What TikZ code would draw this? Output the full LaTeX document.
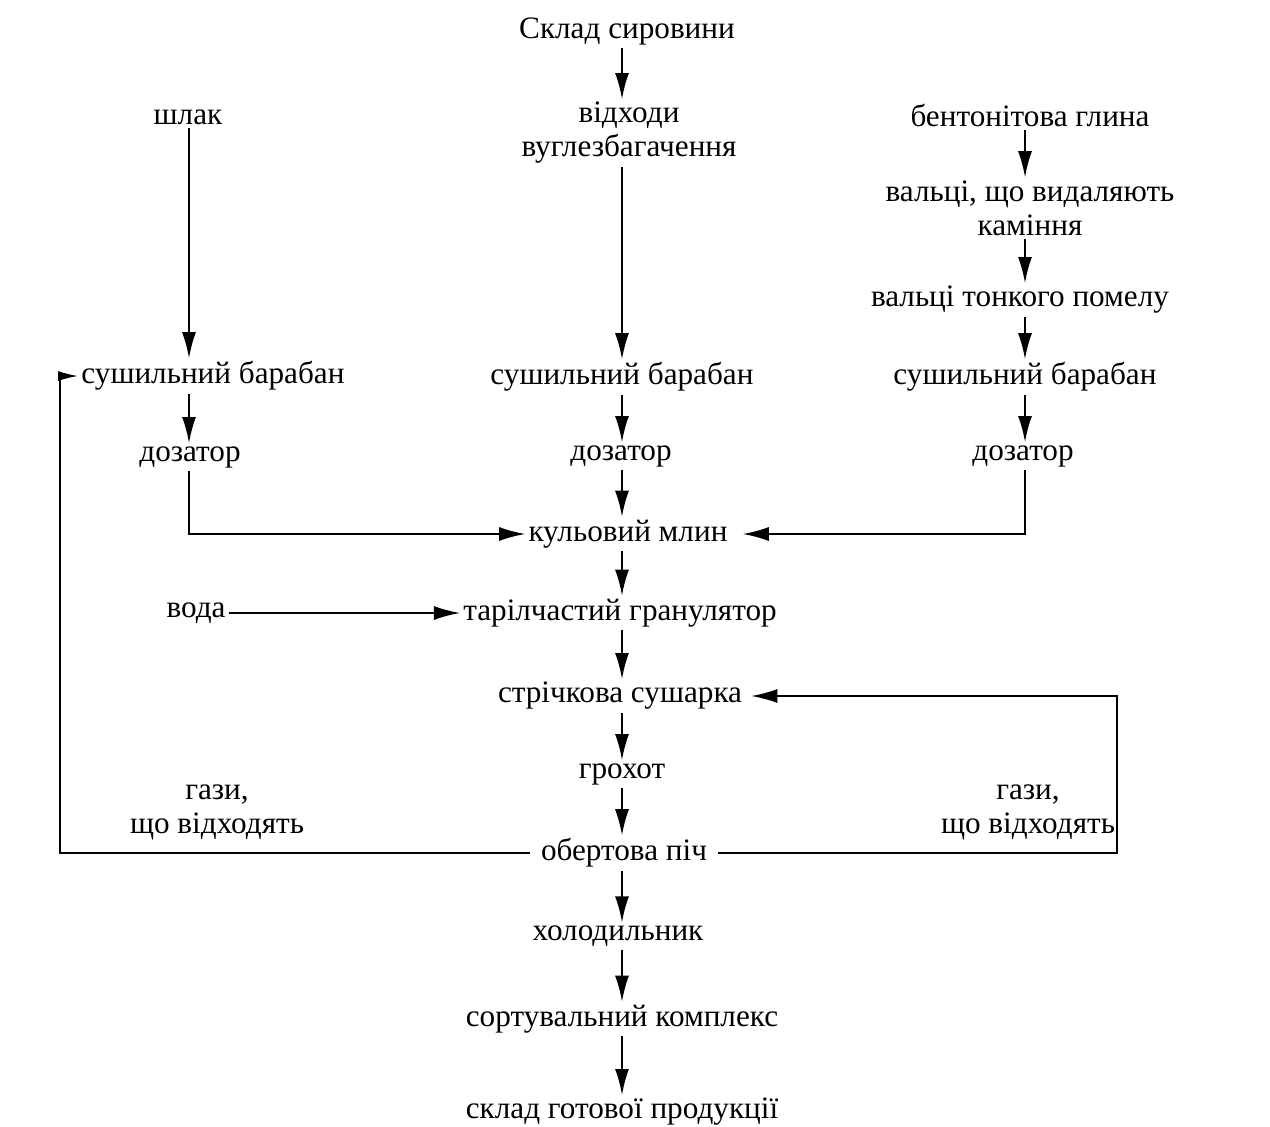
\documentclass[tikz,border=0pt]{standalone}
\usepackage{fontspec}
\setmainfont{Liberation Serif}
\usetikzlibrary{arrows.meta}

\begin{document}
\begin{tikzpicture}[x=0.5pt, y=-0.5pt, >={Latex[length=13pt, width=7pt]}, line width=0.9pt,
  every node/.style={font=\fontsize{15.6}{17}\selectfont, inner sep=1.2pt, align=center}]
  % Canvas
  \useasboundingbox (0,0) rectangle (1270,1126);

  % Axes of the three columns
  \coordinate (axisL) at (189,0);
  \coordinate (axisM) at (622,0);
  \coordinate (axisR) at (1025,0);

  % Left column
  \node (shlak) at (188,117) {шлак};
  \node (sushL) at (213,376) {сушильний барабан};
  \node (dozL) at (190,457) {дозатор};
  \node (voda) at (196,613) {вода};

  % Middle column
  \node (sklad) at (627,31) {Склад сировини};
  \node (vidkhody) at (629,133) {відходи\\вуглезбагачення};
  \node (sushM) at (622,377) {сушильний барабан};
  \node (dozM) at (621,456) {дозатор};
  \node (mlyn) at (628,534) {кульовий млин};
  \node (granul) at (620,613) {тарілчастий гранулятор};
  \node (sushka) at (620,696) {стрічкова сушарка};
  \node (grokhot) at (622,774) {грохот};
  \node[inner xsep=5pt] (pich) at (624,853) {обертова піч};
  \node (kholod) at (618,936) {холодильник};
  \node (sort) at (622,1019) {сортувальний комплекс};
  \node (gotova) at (622,1112) {склад готової продукції};

  % Right column
  \node (glyna) at (1030,115) {бентонітова глина};
  \node (valtsi) at (1030,208) {вальці, що видаляють\\каміння};
  \node (pomel) at (1020,300) {вальці тонкого помелу};
  \node (sushR) at (1025,377) {сушильний барабан};
  \node (dozR) at (1023,456) {дозатор};

  % Off-gas labels
  \node (gazyL) at (217,812) {гази,\\що відходять};
  \node (gazyR) at (1028,812) {гази,\\що відходять};

  % Left column arrows
  \draw[->] (shlak.south -| axisL) -- (sushL.north -| axisL);
  \draw[->] (sushL.south -| axisL) -- (dozL.north -| axisL);
  \draw[->] (dozL.south -| axisL) |- (mlyn.west);
  \draw[->] (voda.east) -- (granul.west);

  % Middle column arrows
  \foreach \a/\b in {sklad/vidkhody, vidkhody/sushM, sushM/dozM, dozM/mlyn, mlyn/granul,
                     granul/sushka, sushka/grokhot, grokhot/pich, pich/kholod, kholod/sort, sort/gotova}
    \draw[->] (\a.south -| axisM) -- (\b.north -| axisM);

  % Right column arrows
  \foreach \a/\b in {glyna/valtsi, valtsi/pomel, pomel/sushR, sushR/dozR}
    \draw[->] (\a.south -| axisR) -- (\b.north -| axisR);
  \draw[->] (dozR.south -| axisR) |- ([xshift=6pt]mlyn.east);

  % Off-gas returns
  \coordinate (loopL) at (60,0);
  \coordinate (loopR) at (1117,0);
  \draw[-{Latex[length=10pt, width=5pt]}] (pich.west) -- (pich.west -| loopL) |- (sushL.west);
  \draw[->] (pich.east) -- (pich.east -| loopR) |- ([xshift=3pt]sushka.east);
\end{tikzpicture}
\end{document}
